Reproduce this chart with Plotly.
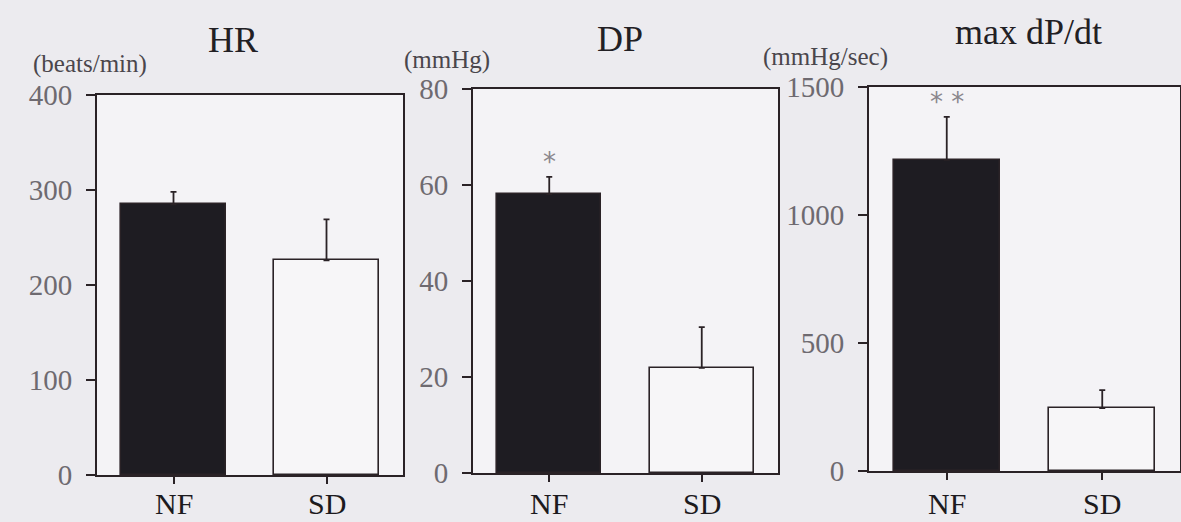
import plotly.graph_objects as go

# ---------------- data ----------------
categories = ["NF", "SD"]
hr_mean = [285, 226]
hr_err = [13, 43]
dp_mean = [58.1, 21.9]
dp_err = [3.6, 8.5]
dpdt_mean = [1215, 246]
dpdt_err = [168, 70]
panel_titles = ["HR", "DP", "max dP/dt"]
unit_labels = ["(beats/min)", "(mmHg)", "(mmHg/sec)"]
y_max = [400, 80, 1500]
y_dtick = [100, 20, 500]
significance = [["", ""], ["*", ""], ["* *", ""]]

means = [hr_mean, dp_mean, dpdt_mean]
errs = [hr_err, dp_err, dpdt_err]

# ---------------- layout geometry (pixels) ----------------
W, H = 1181, 522
panels_px = [  # left, right, top, bottom
    (97, 403, 95, 475),
    (473, 778, 89, 473),
    (869, 1180, 87, 471),
]
title_px = [(233, 40), (620, 39), (1028, 32)]
unit_px = [(90, 64), (447, 60), (825, 57)]

paper_bg = "#ecebef"
plot_bg = "#f4f3f6"
ink = "#2a2226"
bar_fill = ["#1e1c22", "#f7f6f8"]
serif = "Liberation Serif, Times New Roman, serif"

fig = go.Figure()
annotations = []

for i in range(3):
    xa = "x" if i == 0 else f"x{i+1}"
    ya = "y" if i == 0 else f"y{i+1}"
    fig.add_trace(go.Bar(
        x=categories, y=means[i], xaxis=xa, yaxis=ya,
        width=0.68,
        marker=dict(color=bar_fill, line=dict(color=ink, width=1.6)),
        error_y=dict(type="data", array=errs[i], arrayminus=[0, 0],
                     symmetric=False, color=ink, thickness=1.8, width=3),
        showlegend=False, hoverinfo="skip",
    ))
    l, r, t, b = panels_px[i]
    xdom = [l / W, r / W]
    ydom = [(H - b) / H, (H - t) / H]
    axis_common = dict(showline=True, linecolor=ink, linewidth=2, mirror=True,
                       showgrid=False, zeroline=False, ticks="outside",
                       tickcolor=ink, tickwidth=2, automargin=False)
    fig.update_layout(**{
        ("xaxis" if i == 0 else f"xaxis{i+1}"): dict(
            domain=xdom, anchor=ya, range=[-0.5, 1.5], ticklen=7,
            showticklabels=False, **axis_common),
        ("yaxis" if i == 0 else f"yaxis{i+1}"): dict(
            domain=ydom, anchor=xa, range=[0, y_max[i]], dtick=y_dtick[i],
            ticklen=9, tickfont=dict(family=serif, size=29, color="#6e6a70"),
            ticklabelstandoff=8, **axis_common),
    })
    # category labels under each axis, placed on the axis' own category scale
    for cat in categories:
        annotations.append(dict(text=cat, x=cat, y=0, xref=xa, yref="paper",
                                showarrow=False, xanchor="center", yanchor="bottom",
                                font=dict(family=serif, size=30, color="#1c1a1e")))
    tx, ty = title_px[i]
    annotations.append(dict(text=panel_titles[i], x=tx / W, y=1 - ty / H,
                            xref="paper", yref="paper", showarrow=False,
                            xanchor="center", yanchor="middle",
                            font=dict(family=serif, size=36, color="#222024")))
    ux, uy = unit_px[i]
    annotations.append(dict(text=unit_labels[i], x=ux / W, y=1 - uy / H,
                            xref="paper", yref="paper", showarrow=False,
                            xanchor="center", yanchor="middle",
                            font=dict(family=serif, size=25, color="#4a464c")))
    for c, cat in enumerate(categories):
        if significance[i][c]:
            annotations.append(dict(text=significance[i][c], x=cat,
                                    y=means[i][c] + errs[i][c],
                                    xref=xa, yref=ya, showarrow=False,
                                    xanchor="center", yanchor="bottom", yshift=-2,
                                    font=dict(family="DejaVu Sans", size=26,
                                              color="#8a868c")))

fig.update_layout(width=W, height=H, autosize=False,
                  margin=dict(l=0, r=0, t=0, b=0, autoexpand=False),
                  paper_bgcolor=paper_bg, plot_bgcolor=plot_bg,
                  annotations=annotations, bargap=0)

page_fix = ("document.body.style.margin='0';document.body.style.padding='0';"
            "var gd=document.getElementById('{plot_id}');"
            "gd.style.width='%dpx';gd.style.height='%dpx';"
            "Plotly.relayout(gd,{width:%d,height:%d});" % (W, H, W, H))

fig.write_html("out.html",
               config={"responsive": False, "displayModeBar": False},
               post_script=page_fix)
